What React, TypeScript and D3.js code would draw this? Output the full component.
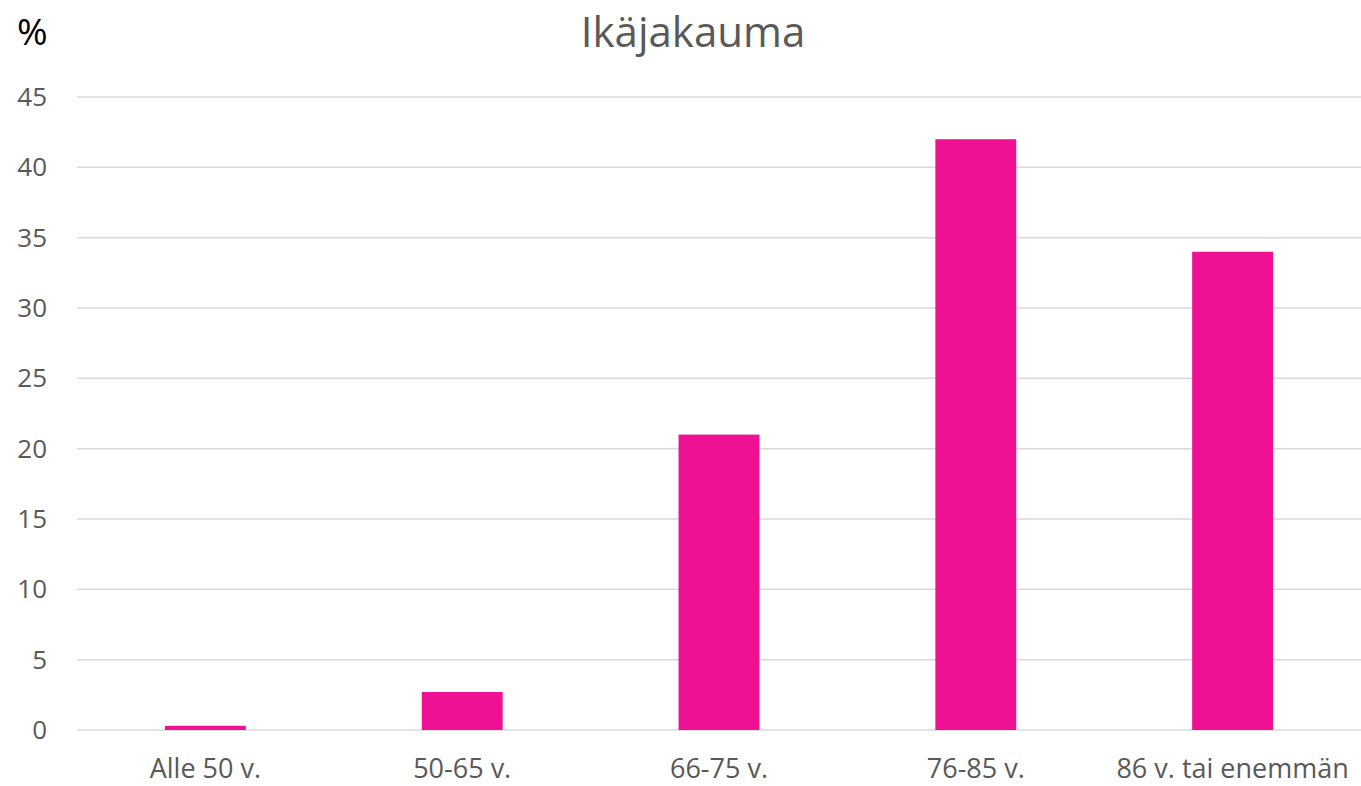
import React, { useEffect, useRef } from 'react';
import * as d3 from 'd3';

const categories = ['Alle 50 v.', '50-65 v.', '66-75 v.', '76-85 v.', '86 v. tai enemmän'];
const values = [0.3, 2.7, 21, 42, 34];
const yTicks = [0, 5, 10, 15, 20, 25, 30, 35, 40, 45];

const App = () => {
  const ref = useRef<SVGSVGElement>(null);
  const width = 1361;
  const height = 786;

  useEffect(() => {
    if (!ref.current) return;
    const svg = d3.select(ref.current);
    svg.selectAll('*').remove();

    const font = '"Open Sans", sans-serif';
    const x = d3.scaleBand<string>()
      .domain(categories)
      .range([77, 1361])
      .paddingInner(0.685)
      .paddingOuter(0.3425);
    const y = d3.scaleLinear().domain([0, 45]).range([730, 97]);

    // grid
    svg.append('g')
      .selectAll('line')
      .data(yTicks)
      .join('line')
      .attr('x1', 77)
      .attr('x2', 1361)
      .attr('y1', d => y(d))
      .attr('y2', d => y(d))
      .attr('stroke', '#d9d9d9')
      .attr('stroke-width', 1.5);

    // y labels
    svg.append('g')
      .selectAll('text')
      .data(yTicks)
      .join('text')
      .attr('x', 47)
      .attr('y', d => y(d))
      .attr('dy', '0.35em')
      .attr('text-anchor', 'end')
      .attr('fill', '#595959')
      .style('font', `26px ${font}`)
      .text(d => d);

    // bars
    svg.append('g')
      .selectAll('rect')
      .data(values)
      .join('rect')
      .attr('x', (d, i) => x(categories[i])!)
      .attr('width', x.bandwidth())
      .attr('y', d => y(d))
      .attr('height', d => y(0) - y(d))
      .attr('fill', '#ee1193');

    // x labels
    svg.append('g')
      .selectAll('text')
      .data(categories)
      .join('text')
      .attr('x', d => x(d)! + x.bandwidth() / 2)
      .attr('y', 778)
      .attr('text-anchor', 'middle')
      .attr('fill', '#595959')
      .style('font', `27px ${font}`)
      .text(d => d);

    svg.append('text')
      .attr('x', 693)
      .attr('y', 47)
      .attr('text-anchor', 'middle')
      .attr('fill', '#595959')
      .style('font', `42px ${font}`)
      .text('Ikäjakauma');

    svg.append('text')
      .attr('x', 17)
      .attr('y', 45)
      .attr('fill', '#000')
      .style('font', `37px ${font}`)
      .text('%');
  }, []);

  return (
    <svg
      ref={ref}
      width={width}
      height={height}
      style={{ position: 'absolute', left: 0, top: 0, background: 'white' }}
    />
  );
};

export default App;
